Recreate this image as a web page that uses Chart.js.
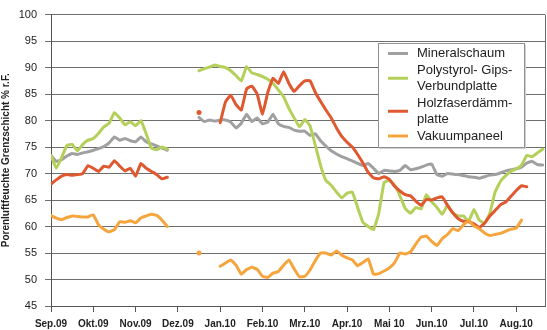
<!DOCTYPE html>
<html>
<head>
<meta charset="utf-8">
<script src="https://cdn.jsdelivr.net/npm/chart.js@4.4.1/dist/chart.umd.min.js"></script>
<style>
  html, body { margin: 0; padding: 0; background: #fff; }
  #wrap { width: 547px; height: 330px; }
</style>
</head>
<body>
<div id="wrap"><canvas id="chart"></canvas></div>
<script>
// one reading every 1/8 month, starting 1 Sep 2009
var SAMPLES_PER_MONTH = 8;

var monthLabels = ["Sep.09", "Okt.09", "Nov.09", "Dez.09", "Jan.10", "Feb.10",
  "Mrz.10", "Apr.10", "Mai 10", "Jun.10", "Jul.10", "Aug.10"];

var seriesNames = ["Mineralschaum", "Polystyrol- Gips-\nVerbundplatte",
  "Holzfaserdämm-\nplatte", "Vakuumpaneel"];

var mineralschaum = [
  73.4, 72.3, 72.6, 73.3, 73.8, 73.6, 73.9, 74.1, 74.4, 74.7, 75.1, 75.8, 76.9, 76.3, 76.6, 76.2,
  76.0, 76.9, 76.0, 75.6, 75.2, 74.8, 74.4, null, null, null, null, null, 80.6, 79.8, 80.1, 79.9,
  80.1, 80.1, 79.7, 78.6, 79.5, 81.2, 79.8, 80.5, 79.4, 79.7, 81.2, 79.4, 78.9, 78.7, 78.2, 78.0,
  78.0, 77.2, 77.5, 76.2, 75.2, 74.3, 73.7, 73.2, 72.8, 72.4, 71.9, 71.5, 71.9, 71.0, 70.0, 70.6,
  70.5, 70.4, 70.6, 71.5, 70.7, 70.9, 71.2, 71.6, 71.8, 69.8, 69.5, 70.0, 69.9, 69.8, 69.6, 69.4,
  69.3, 69.1, 69.4, 69.7, 69.8, 70.1, 70.5, 70.7, 70.9, 71.2, 72.0, 72.3, 71.7, 71.6
];

var polystyrol = [
  73.4, 71.0, 73.0, 75.3, 75.5, 74.3, 75.5, 76.3, 76.6, 77.6, 78.8, 79.5, 81.5, 80.5, 79.2, 79.8,
  79.0, 80.0, 77.5, 74.8, 74.5, 75.0, 74.6, null, null, null, null, null, 89.4, 89.8, 90.1, 90.5,
  90.2, 90.0, 89.4, 88.5, 87.5, 90.2, 89.0, 88.7, 88.3, 87.8, 87.0, 85.8, 84.5, 82.3, 80.5, 78.8,
  80.2, 79.0, 75.3, 71.5, 68.7, 67.8, 66.5, 65.4, 66.3, 66.5, 63.6, 60.8, 60.0, 59.4, 62.5, 68.3,
  68.7, 67.8, 65.8, 63.4, 62.5, 63.6, 63.3, 66.0, 64.7, 63.6, 62.3, 64.0, 62.5, 62.0, 62.0, 61.0,
  63.2, 61.2, 60.6, 62.5, 66.5, 68.5, 69.6, 70.4, 70.9, 71.6, 73.4, 73.2, 73.9, 74.6
];

var holzfaser = [
  68.0, 68.8, 69.5, 69.8, 69.7, 69.8, 70.0, 71.5, 71.0, 70.4, 71.4, 71.2, 72.4, 71.4, 70.5, 71.0,
  69.5, 71.9, 71.0, 70.4, 69.8, 69.0, 69.3, null, null, null, null, null, 81.5, null, null, null,
  79.6, 83.5, 84.8, 83.0, 82.0, 86.0, 86.5, 85.0, 81.2, 85.3, 88.0, 87.0, 89.2, 87.0, 85.5, 86.6,
  87.5, 87.5, 85.3, 83.6, 82.0, 80.5, 78.6, 77.0, 75.9, 75.0, 73.6, 72.0, 70.2, 69.2, 69.0, 69.4,
  68.9, 67.6, 66.7, 66.0, 65.8, 64.8, 64.0, 65.1, 65.0, 65.4, 65.6, 64.0, 62.6, 61.5, 61.0, 60.9,
  60.5, 59.8, 60.6, 62.0, 63.0, 64.1, 64.6, 65.7, 66.8, 67.7, 67.5, null, null, null
];

var vakuum = [
  62.1, 61.6, 61.3, 61.7, 62.0, 61.9, 61.8, 61.8, 62.2, 60.3, 59.5, 59.0, 59.4, 60.9, 60.8, 61.1,
  60.7, 61.6, 62.0, 62.3, 62.1, 61.2, 60.0, null, null, null, null, null, 55.0, null, null, null,
  52.5, 53.1, 53.7, 52.7, 51.0, 51.9, 52.3, 51.9, 50.6, 50.4, 51.2, 51.5, 52.7, 53.7, 52.0, 50.5,
  50.6, 51.8, 53.6, 55.0, 55.0, 54.6, 55.4, 54.6, 54.1, 53.7, 52.6, 53.2, 53.9, 51.0, 51.1, 51.6,
  52.2, 53.2, 55.0, 54.8, 55.2, 56.7, 58.0, 58.2, 57.2, 56.4, 57.7, 58.5, 59.6, 59.2, 60.3, 61.1,
  60.1, 59.6, 58.8, 58.3, 58.5, 58.7, 59.1, 59.5, 59.7, 61.2, null, null, null, null
];

var colors = ["#a0a0a0", "#b4d05a", "#e0582f", "#f6a53c"];

// x position of every reading, in months after Sep.09
var positions = mineralschaum.map(function (v, i) { return i / SAMPLES_PER_MONTH; });

// single readings with no neighbours show as a dot
function loneDot(ctx) {
  var d = ctx.dataset.data, i = ctx.dataIndex;
  if (d[i] == null) return 0;
  return (d[i - 1] == null && d[i + 1] == null) ? 2.5 : 0;
}

var frameAndLegend = {
  id: "frameAndLegend",
  afterDraw: function (chart) {
    var ctx = chart.ctx, a = chart.chartArea;
    ctx.save();
    // right frame line
    ctx.strokeStyle = "#6a6a6a";
    ctx.lineWidth = 1;
    ctx.beginPath();
    ctx.moveTo(Math.round(a.right) + 0.5, a.top);
    ctx.lineTo(Math.round(a.right) + 0.5, a.bottom);
    ctx.stroke();

    // legend box
    var bx = 378.5, by = 43.5, bw = 146, bh = 104;
    ctx.fillStyle = "#fff";
    ctx.fillRect(bx, by, bw, bh);
    ctx.strokeStyle = "#d0d0d0";
    ctx.beginPath();
    ctx.moveTo(bx + bw + 1, by + 1);
    ctx.lineTo(bx + bw + 1, by + bh + 1);
    ctx.lineTo(bx + 1, by + bh + 1);
    ctx.stroke();
    ctx.strokeStyle = "#909090";
    ctx.strokeRect(bx, by, bw, bh);

    ctx.font = '13px "Liberation Sans", Arial, sans-serif';
    ctx.textBaseline = "middle";
    ctx.textAlign = "left";
    var lineH = 16.5, y = 53.5;
    chart.data.datasets.forEach(function (ds) {
      var lines = ds.label.split("\n");
      var mid = y + (lines.length - 1) * lineH / 2;
      ctx.strokeStyle = ds.borderColor;
      ctx.lineWidth = 3;
      ctx.beginPath();
      ctx.moveTo(388, mid);
      ctx.lineTo(408, mid);
      ctx.stroke();
      ctx.fillStyle = "#222";
      lines.forEach(function (t) {
        ctx.fillText(t, 417, y);
        y += lineH;
      });
    });
    ctx.restore();
  }
};

Chart.defaults.font.family = '"Liberation Sans", Arial, sans-serif';
Chart.defaults.color = "#222";

var series = [mineralschaum, polystyrol, holzfaser, vakuum];

new Chart(document.getElementById("chart"), {
  type: "line",
  data: {
    labels: positions,
    datasets: series.map(function (values, k) {
      return {
        label: seriesNames[k],
        data: values,
        borderColor: colors[k],
        backgroundColor: colors[k],
        borderWidth: 3,
        borderCapStyle: "round",
        borderJoinStyle: "round",
        tension: 0.1,
        pointRadius: loneDot,
        pointBorderWidth: 0,
        order: series.length - k
      };
    })
  },
  options: {
    responsive: true,
    maintainAspectRatio: false,
    animation: false,
    layout: { padding: { top: 13, right: 2, bottom: 0, left: 0 } },
    plugins: {
      legend: { display: false },
      tooltip: { enabled: false }
    },
    scales: {
      x: {
        type: "linear",
        min: 0,
        max: 11.68,
        afterFit: function (scale) { scale.height = 24; },
        grid: { drawOnChartArea: false, tickLength: 6, tickColor: "#555" },
        border: { color: "#555" },
        ticks: {
          stepSize: 1,
          includeBounds: false,
          maxRotation: 0,
          autoSkip: false,
          padding: 6,
          font: { size: 10, weight: "bold" },
          callback: function (v) { return Number.isInteger(v) ? monthLabels[v] : ""; }
        }
      },
      y: {
        min: 45,
        max: 100,
        afterFit: function (scale) { scale.width = 51; },
        grid: { color: "#6e6e6e", tickLength: 6 },
        border: { color: "#555" },
        ticks: { stepSize: 5, padding: 8, font: { size: 11 } },
        title: {
          display: true,
          text: "Porenluftfeuchte Grenzschicht % r.F.",
          font: { size: 10, weight: "bold" },
          padding: { top: 0, bottom: 0 }
        }
      }
    }
  },
  plugins: [frameAndLegend]
});
</script>
</body>
</html>
